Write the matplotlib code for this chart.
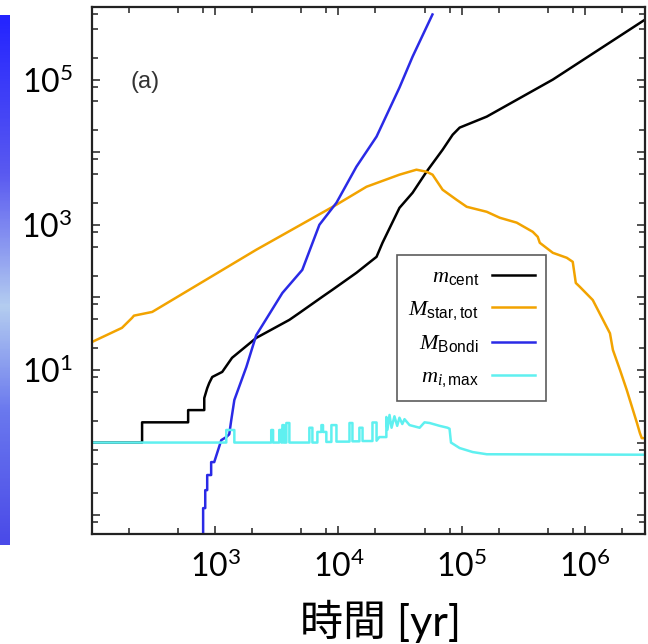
import numpy as np
import matplotlib
matplotlib.use("Agg")
import matplotlib.pyplot as plt
from matplotlib.ticker import LogLocator, FixedLocator, FuncFormatter, NullFormatter
from matplotlib.colors import LinearSegmentedColormap

plt.rcParams['mathtext.fontset'] = 'custom'
plt.rcParams['mathtext.rm'] = 'Liberation Serif'
plt.rcParams['mathtext.it'] = 'Liberation Serif:italic'
plt.rcParams['mathtext.sf'] = 'Liberation Sans'
plt.rcParams['mathtext.default'] = 'regular'

# time [yr] and masses
black_t = [100, 255, 255, 603, 603, 815, 815, 861, 894, 946, 1140, 1370, 2150, 4000,
           4820, 7410, 8930, 14000, 16900, 20400, 22800, 31300, 40000, 51900, 70100,
           84600, 96400, 160000, 550000, 3.08e6]
black_m = [1.0, 1.0, 1.9, 1.9, 2.8, 2.8, 4.1, 5.6, 6.6, 8.0, 9.4, 14.7, 27.6, 49,
           61, 102, 127, 218, 281, 362, 565, 1710, 2760, 5380, 10800,
           17400, 21800, 30900, 1.0e5, 6.7e5]

orange_t = [100, 175, 211, 219, 308, 615, 2150, 9640, 16900, 31300, 43000, 51900,
            58100, 70100, 91000, 110000, 160000, 204000, 280000, 378000, 415000,
            431000, 550000, 714000, 798000, 845000, 910000, 1.16e6, 1.6e6, 1.69e6,
            1.93e6, 2.19e6, 2.32e6, 2.65e6, 2.8e6, 2.9e6, 3.08e6]
orange_m = [24.3, 38, 52, 56, 63, 127, 452, 1890, 3340, 4900, 5740, 5380,
            4900, 3040, 2210, 1770, 1510, 1250, 1070, 800, 682,
            565, 411, 351, 309, 158, 140, 92, 32, 18.9,
            10, 5.3, 3.86, 1.86, 1.35, 1.15, 1.15]

blue_t = [798, 798, 830, 830, 861, 861, 927, 927, 982, 1120, 1230, 1300, 1350, 1430,
          1790, 2150, 3510, 5090, 7010, 9640, 14000, 20400, 31300, 40000, 58000]
blue_m = [0.05, 0.125, 0.125, 0.221, 0.221, 0.357, 0.357, 0.538, 0.538, 1.08, 1.19, 1.3, 2.04, 3.86,
          11, 30, 115, 239, 1000, 2010, 6310, 16400, 77600, 207000, 789000]

cyan_t = [100, 1230, 1230, 1430, 1430, 2850, 2850, 2950, 2950, 3310, 3310, 3450, 3450,
          3510, 3510, 3620, 3620, 3780, 3780, 4000, 4000, 5810, 5810, 6150, 6150,
          6750, 6750, 7280, 7280, 7500, 7500, 7980, 7980, 8770, 8770, 9640, 9640,
          12300, 12300, 13000, 13000, 14800, 14800, 15700, 15700, 18900, 18900,
          20400, 20400, 21500, 24500, 24500, 25000, 26000, 27000, 28500, 30000,
          31300, 33000, 34400, 37800, 45600, 50000, 55000, 66200, 76900, 79800,
          82000, 96400, 123000, 160000, 3.08e6]
cyan_m = [1.0, 1.0, 1.49, 1.49, 1.0, 1.0, 1.49, 1.49, 1.0, 1.0, 1.49, 1.49, 1.0,
          1.0, 1.74, 1.74, 1.0, 1.0, 1.86, 1.86, 1.0, 1.0, 1.6, 1.6, 1.0,
          1.0, 1.4, 1.4, 1.74, 1.74, 1.4, 1.4, 1.02, 1.02, 1.74, 1.74, 1.03,
          1.03, 1.86, 1.86, 1.04, 1.04, 1.6, 1.6, 1.05, 1.05, 1.89,
          1.89, 1.06, 1.19, 1.19, 2.25, 1.5, 2.4, 1.6, 2.3, 1.7,
          2.2, 1.8, 2.1, 1.74, 1.6, 1.9, 1.86, 1.7, 1.6, 1.55,
          1.0, 0.84, 0.74, 0.69, 0.68]

labels = [r"$\mathit{m}_{\mathsf{cent}}$", r"$\mathit{M}_{\mathsf{star,tot}}$",
          r"$\mathit{M}_{\mathsf{Bondi}}$", r"$\mathit{m}_{\mathit{i}\mathsf{,max}}$"]
colors = ['#000000', '#f2a300', '#2a2ae6', '#5ff0f0']

x_shown = [3, 4, 5, 6]
y_shown = [1, 3, 5]

fig = plt.figure(figsize=(6.48, 6.44), dpi=100)
ax = fig.add_axes([92/648, 110/644, 553/648, 527/644])

ax.plot(black_t, black_m, color=colors[0], lw=1.8, label=labels[0])
ax.plot(orange_t, orange_m, color=colors[1], lw=1.8, label=labels[1])
ax.plot(blue_t, blue_m, color=colors[2], lw=1.8, label=labels[2])
ax.plot(cyan_t, cyan_m, color=colors[3], lw=1.8, label=labels[3])

ax.set_xscale('log')
ax.set_yscale('log')
ax.set_xlim(100, 3.08e6)
ax.set_ylim(0.055, 1e6)

def make_fmt(shown):
    def f(v, pos):
        e = int(round(np.log10(v)))
        return f"$10^{{{e}}}$" if e in shown else ""
    return f

minor = [s * 10.0**e for e in range(-2, 7) for s in (2, 5, 8)]
for axis, shown in ((ax.xaxis, x_shown), (ax.yaxis, y_shown)):
    axis.set_major_locator(LogLocator(base=10, numticks=20))
    axis.set_minor_locator(FixedLocator(minor))
    axis.set_major_formatter(FuncFormatter(make_fmt(shown)))
    axis.set_minor_formatter(NullFormatter())

ax.tick_params(which='both', direction='in', top=True, right=True, width=1.1, color='#222222')
ax.tick_params(which='major', length=6)
ax.tick_params(which='minor', length=4)
ax.tick_params(axis='x', pad=12)
ax.tick_params(axis='y', pad=14)
for lab in ax.get_xticklabels() + ax.get_yticklabels():
    lab.set_fontfamily('Lato')
    lab.set_fontsize(23)
for s in ax.spines.values():
    s.set_linewidth(1.6)
    s.set_color('#222222')

ax.set_xlabel("時間 [yr]", fontsize=31, family=['Lato', 'Noto Sans CJK JP'], labelpad=12)
ax.xaxis.label.set_x(0.521)

ax.text(0.096, 0.858, "(a)", transform=ax.transAxes, fontsize=17,
        family='Liberation Sans', ha='center', va='center', color='#333333')

leg = ax.legend(loc='upper left', bbox_to_anchor=(0.552, 0.529), markerfirst=False,
                fontsize=16, frameon=True, fancybox=False, edgecolor='#333333',
                handlelength=1.9, labelspacing=0.5, borderpad=0.5, handletextpad=0.6,
                borderaxespad=0)
leg.get_frame().set_linewidth(1.2)

# blue strip at the left edge of the slide
strip = fig.add_axes([0, 99/644, 10/648, 530/644])
cmap = LinearSegmentedColormap.from_list(
    'strip', [(0.0, '#2424ff'), (0.3, '#5a5af0'), (0.55, '#b4cdf0'), (0.75, '#6a78ee'), (1.0, '#4a4ae8')])
strip.imshow(np.linspace(0, 1, 200)[:, None], aspect='auto', cmap=cmap)
strip.axis('off')

fig.savefig('out.png', dpi=100)
